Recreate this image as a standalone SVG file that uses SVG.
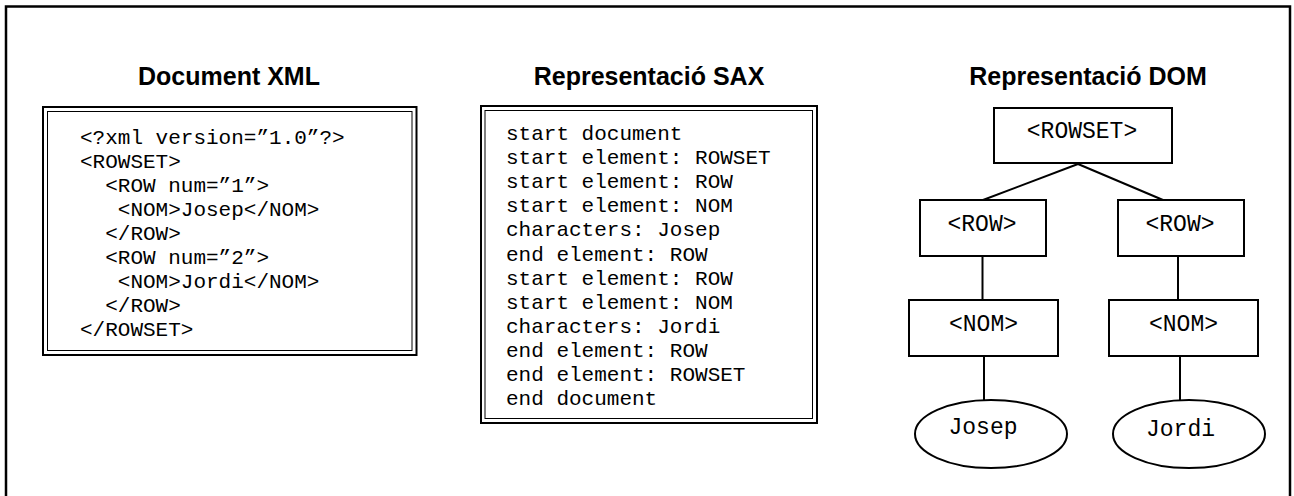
<svg xmlns="http://www.w3.org/2000/svg" width="1294" height="496" viewBox="0 0 1294 496">
  <style>
    .title { font-family: "Liberation Sans", Arial, sans-serif; font-weight: bold; font-size: 25px; fill: #000; text-anchor: middle; }
    .mono { font-family: "Liberation Mono", "Courier New", monospace; font-size: 21px; fill: #000; }
    .tree { font-family: "Liberation Mono", "Courier New", monospace; font-size: 23px; fill: #000; text-anchor: middle; }
    .frame { fill: none; stroke: #000; stroke-width: 2.5; }
    .outer { fill: none; stroke: #000; stroke-width: 2; }
    .inner { fill: none; stroke: #000; stroke-width: 1; }
    .node { fill: #fff; stroke: #000; stroke-width: 2; }
    .edge { fill: none; stroke: #000; stroke-width: 2; }
  </style>
  <rect width="1294" height="496" fill="#fff"/>
  <!-- surrounding frame, open at the bottom edge -->
  <rect class="frame" x="6" y="6.5" width="1284" height="500"/>

  <!-- XML document panel -->
  <g id="xml-document">
    <text class="title" x="229" y="85">Document XML</text>
    <rect class="outer" x="43" y="107" width="373.5" height="248"/>
    <rect class="inner" x="47.5" y="111.5" width="364.5" height="239"/>
    <g class="mono">
      <text x="80" y="144">&lt;?xml version=”1.0”?&gt;</text>
      <text x="80" y="168">&lt;ROWSET&gt;</text>
      <text x="105.2" y="192">&lt;ROW num=”1”&gt;</text>
      <text x="117.8" y="216">&lt;NOM&gt;Josep&lt;/NOM&gt;</text>
      <text x="105.2" y="240">&lt;/ROW&gt;</text>
      <text x="105.2" y="264">&lt;ROW num=”2”&gt;</text>
      <text x="117.8" y="288">&lt;NOM&gt;Jordi&lt;/NOM&gt;</text>
      <text x="105.2" y="312">&lt;/ROW&gt;</text>
      <text x="80" y="336">&lt;/ROWSET&gt;</text>
    </g>
  </g>

  <!-- SAX event list panel -->
  <g id="sax-events">
    <text class="title" x="649" y="85">Representació SAX</text>
    <rect class="outer" x="481" y="106" width="336" height="317"/>
    <rect class="inner" x="485" y="110.5" width="327.5" height="308"/>
    <g class="mono">
      <text x="506" y="140">start document</text>
      <text x="506" y="164.1">start element: ROWSET</text>
      <text x="506" y="188.2">start element: ROW</text>
      <text x="506" y="212.3">start element: NOM</text>
      <text x="506" y="236.4">characters: Josep</text>
      <text x="506" y="260.5">end element: ROW</text>
      <text x="506" y="284.6">start element: ROW</text>
      <text x="506" y="308.7">start element: NOM</text>
      <text x="506" y="332.8">characters: Jordi</text>
      <text x="506" y="356.9">end element: ROW</text>
      <text x="506" y="381">end element: ROWSET</text>
      <text x="506" y="405.1">end document</text>
    </g>
  </g>

  <!-- DOM tree panel -->
  <g id="dom-title">
    <text class="title" x="1088" y="85">Representació DOM</text>
  </g>

  <g id="connectors">
    <line class="edge" x1="1078" y1="164" x2="983" y2="200"/>
    <line class="edge" x1="1078" y1="164" x2="1163" y2="200"/>
    <line class="edge" x1="982.5" y1="256" x2="982.5" y2="300"/>
    <line class="edge" x1="1178" y1="256" x2="1178" y2="300"/>
    <line class="edge" x1="984" y1="356" x2="984" y2="400"/>
    <line class="edge" x1="1180" y1="356" x2="1180" y2="400"/>
  </g>

  <g id="node-rowset">
    <rect class="node" x="994" y="108" width="178" height="55"/>
    <text class="tree" x="1082" y="138">&lt;ROWSET&gt;</text>
  </g>
  <g id="node-row1">
    <rect class="node" x="920" y="200" width="126" height="56"/>
    <text class="tree" x="982" y="231">&lt;ROW&gt;</text>
  </g>
  <g id="node-row2">
    <rect class="node" x="1118" y="200" width="126" height="56"/>
    <text class="tree" x="1180" y="231">&lt;ROW&gt;</text>
  </g>
  <g id="node-nom1">
    <rect class="node" x="909" y="300" width="149" height="56"/>
    <text class="tree" x="983.5" y="331">&lt;NOM&gt;</text>
  </g>
  <g id="node-nom2">
    <rect class="node" x="1109" y="300" width="149" height="56"/>
    <text class="tree" x="1183.5" y="331">&lt;NOM&gt;</text>
  </g>
  <g id="leaf-josep">
    <ellipse class="node" cx="991" cy="434" rx="76" ry="34"/>
    <text class="tree" x="983" y="434">Josep</text>
  </g>
  <g id="leaf-jordi">
    <ellipse class="node" cx="1189" cy="434" rx="76" ry="34"/>
    <text class="tree" x="1180.5" y="436">Jordi</text>
  </g>
</svg>
